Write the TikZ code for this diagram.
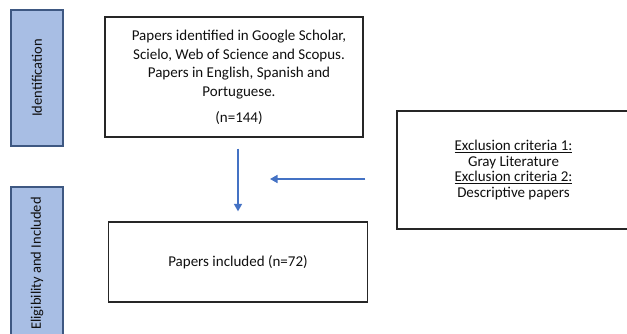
\documentclass[tikz,border=0pt]{standalone}
\usepackage{fontspec}
\setmainfont{Carlito}
\usetikzlibrary{arrows.meta}
\definecolor{stagefill}{RGB}{168,190,228}
\definecolor{stageline}{RGB}{62,88,130}
\definecolor{arrowblue}{RGB}{68,114,196}
\definecolor{txt}{RGB}{15,15,15}
\tikzset{
  stagebox/.style={draw=stageline, line width=1.1pt, fill=stagefill, minimum width=52pt, inner sep=0pt, text=txt, font=\fontsize{14.5}{16}\selectfont},
  flowbox/.style={draw=black!85, line width=1.3pt, inner sep=0pt, align=center, text=txt, font=\fontsize{15}{15.5}\selectfont},
  flowtext/.style={inner sep=0pt, align=center, text=txt, font=\fontsize{15}{18.5}\selectfont},
  flowarrow/.style={draw=arrowblue, line width=1.6pt, -{Triangle[length=7.5pt,width=8pt]}}
}
\begin{document}
\begin{tikzpicture}[x=1pt,y=-1pt]
\useasboundingbox (0,0) rectangle (627,334);
\node[stagebox, minimum height=136pt] (ident) at (37,78) {\rotatebox{90}{Identification}};
\node[stagebox, minimum height=153pt] (elig) at (37,263.5) {\rotatebox{90}{Eligibility and Included}};
\node[flowbox, minimum width=258pt, minimum height=120pt] (top) at (234,77) {};
\node[flowtext] (toptext) at (239,77.5)
  {Papers identified in Google Scholar,\\ Scielo, Web of Science and Scopus.\\ Papers in English, Spanish and\\ Portuguese.\\[8pt] (n=144)};
\node[flowbox, minimum width=233pt, minimum height=118pt] (excl) at (513.5,170)
  {\underline{Exclusion criteria 1:}\\ Gray Literature\\ \underline{Exclusion criteria 2:}\\ Descriptive papers};
\node[flowbox, minimum width=259pt, minimum height=80pt] (bot) at (238,262)
  {Papers included (n=72)};
\coordinate (leftend) at (270,179);
\draw[flowarrow, shorten <=11pt, shorten >=10pt] (top.south -| bot.north) -- (bot.north);
\draw[flowarrow, shorten <=31pt] (excl.west |- leftend) -- (leftend);
\end{tikzpicture}
\end{document}
